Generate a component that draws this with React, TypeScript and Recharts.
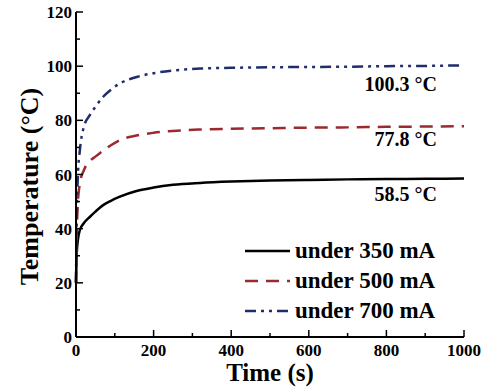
import React from 'react';
import { LineChart, Line, XAxis, YAxis, Legend, ReferenceDot } from 'recharts';

// time (s) and temperature (°C)
const times = [0, 2, 5, 10, 20, 36, 50, 70, 90, 113, 156, 200, 250, 320, 400, 500, 600, 700, 800, 900, 1000];
const temp350 = [20, 31, 36, 39.5, 42, 44.4, 46.3, 48.7, 50.3, 51.8, 53.9, 55.2, 56.2, 56.9, 57.4, 57.8, 58.0, 58.2, 58.3, 58.4, 58.5];
const temp500 = [20, 38, 50, 56.7, 61.5, 65, 66.6, 68.8, 70.8, 72.7, 74.4, 75.4, 76.1, 76.6, 76.9, 77.1, 77.3, 77.4, 77.6, 77.7, 77.8];
const temp700 = [20, 45, 60, 69, 77.5, 82, 85, 88.7, 91.3, 93.6, 96, 97.4, 98.4, 99.1, 99.4, 99.6, 99.7, 99.8, 100, 100.1, 100.3];

const xTicks = [0, 100, 200, 300, 400, 500, 600, 700, 800, 900, 1000];
const yTicks = [0, 10, 20, 30, 40, 50, 60, 70, 80, 90, 100, 110, 120];

const legendNames = ['under 350 mA', 'under 500 mA', 'under 700 mA'];
const finalTemps = [58.5, 77.8, 100.3];

const data = times.map((t, i) => ({ t, a: temp350[i], b: temp500[i], c: temp700[i] }));

const FONT = '"Liberation Serif", "Times New Roman", serif';
const styles = [
  { key: 'a', color: '#000000', dash: undefined },
  { key: 'b', color: '#9a2a2d', dash: '13 8' },
  { key: 'c', color: '#1f2d6b', dash: '11 5 3 5 3 5' },
];

const BottomTick = (p: any) => {
  const { x, y, payload } = p;
  const major = payload.value % 200 === 0;
  return (
    <g>
      <line x1={x} x2={x} y1={y} y2={y - (major ? 7 : 4)} stroke="#000" strokeWidth={1.5} />
      {major && (
        <text x={x} y={y + 19} textAnchor="middle" fontFamily={FONT} fontWeight="bold" fontSize={17} fill="#000">
          {payload.value}
        </text>
      )}
    </g>
  );
};

const TopTick = (p: any) => {
  const { x, y, payload } = p;
  const major = payload.value % 200 === 0;
  return <line x1={x} x2={x} y1={y} y2={y + (major ? 7 : 4)} stroke="#000" strokeWidth={1.5} />;
};

const LeftTick = (p: any) => {
  const { x, y, payload } = p;
  const major = payload.value % 20 === 0;
  return (
    <g>
      <line x1={x} x2={x + (major ? 7 : 4)} y1={y} y2={y} stroke="#000" strokeWidth={1.5} />
      {major && (
        <text x={x - 4} y={y + 6} textAnchor="end" fontFamily={FONT} fontWeight="bold" fontSize={17} fill="#000">
          {payload.value}
        </text>
      )}
    </g>
  );
};

const RightTick = (p: any) => {
  const { x, y, payload } = p;
  const major = payload.value % 20 === 0;
  return <line x1={x} x2={x - (major ? 7 : 4)} y1={y} y2={y} stroke="#000" strokeWidth={1.5} />;
};

const LegendBox = () => (
  <div style={{ fontFamily: FONT, fontWeight: 'bold', fontSize: 23, color: '#000' }}>
    {legendNames.map((name, i) => (
      <div key={name} style={{ display: 'flex', alignItems: 'center', height: 30 }}>
        <svg width={52} height={30}>
          <line x1={2} x2={47} y1={15} y2={15} stroke={styles[i].color} strokeWidth={2.5} strokeDasharray={styles[i].dash} />
        </svg>
        <span style={{ lineHeight: '30px' }}>{name}</span>
      </div>
    ))}
  </div>
);

const noteOffsets = [22, 20, 26];

export default function App() {
  return (
    <div style={{ position: 'absolute', left: 0, top: 0, background: '#fff' }}>
      <LineChart width={482} height={392} data={data} margin={{ top: 12, right: 18, bottom: 0, left: 0 }}>
        <XAxis
          xAxisId="b"
          dataKey="t"
          type="number"
          domain={[0, 1000]}
          ticks={xTicks}
          interval={0}
          height={55}
          tickSize={0}
          tickMargin={0}
          tick={BottomTick}
          axisLine={{ stroke: '#000', strokeWidth: 2 }}
          label={{
            value: 'Time (s)',
            position: 'insideBottom',
            offset: 11,
            style: { fontFamily: FONT, fontWeight: 'bold', fontSize: 25, fill: '#000' },
          }}
        />
        <XAxis
          xAxisId="t"
          orientation="top"
          type="number"
          domain={[0, 1000]}
          ticks={xTicks}
          interval={0}
          height={0}
          tickSize={0}
          tickMargin={0}
          tick={TopTick}
          axisLine={{ stroke: '#000', strokeWidth: 2 }}
        />
        <YAxis
          yAxisId="l"
          type="number"
          domain={[0, 120]}
          ticks={yTicks}
          interval={0}
          width={76}
          tickSize={0}
          tickMargin={0}
          tick={LeftTick}
          axisLine={{ stroke: '#000', strokeWidth: 2 }}
          label={{
            value: 'Temperature (°C)',
            angle: -90,
            position: 'center',
            dx: -9,
            dy: 12,
            style: { fontFamily: FONT, fontWeight: 'bold', fontSize: 26, fill: '#000' },
          }}
        />
        <YAxis
          yAxisId="r"
          orientation="right"
          type="number"
          domain={[0, 120]}
          ticks={yTicks}
          interval={0}
          width={0}
          tickSize={0}
          tickMargin={0}
          tick={RightTick}
          axisLine={{ stroke: '#000', strokeWidth: 2 }}
        />
        {styles.map((s) => (
          <Line
            key={s.key}
            xAxisId="b"
            yAxisId="l"
            type="monotone"
            dataKey={s.key}
            stroke={s.color}
            strokeWidth={2.5}
            strokeDasharray={s.dash}
            dot={false}
            isAnimationActive={false}
          />
        ))}
        {finalTemps.map((v, i) => (
          <ReferenceDot
            key={v}
            xAxisId="b"
            yAxisId="l"
            x={1000}
            y={v}
            r={0}
            fill="none"
            stroke="none"
            ifOverflow="visible"
            label={(lp: any) => (
              <text
                x={lp.viewBox.x - 27}
                y={lp.viewBox.y + noteOffsets[i]}
                textAnchor="end"
                fontFamily={FONT}
                fontWeight="bold"
                fontSize={20}
                fill="#000"
              >
                {v.toFixed(1) + ' °C'}
              </text>
            )}
          />
        ))}
        <Legend
          layout="horizontal"
          align="center"
          verticalAlign="middle"
          content={LegendBox}
          wrapperStyle={{ position: 'absolute', left: 243, top: 236, width: 230 }}
        />
      </LineChart>
    </div>
  );
}
